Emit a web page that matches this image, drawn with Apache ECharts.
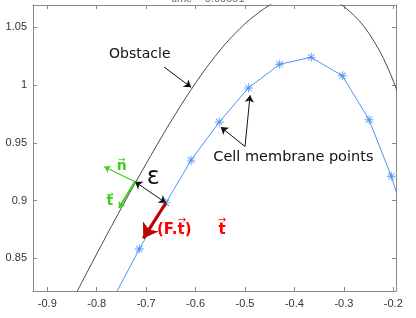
<!DOCTYPE html>
<html><head><meta charset="utf-8">
<script src="https://cdn.jsdelivr.net/npm/echarts@6/dist/echarts.min.js"></script>
<style>html,body{margin:0;padding:0;background:#fff}#c{width:416px;height:318px}</style>
</head><body><div id="c"></div>
<script>
// ---- data ----
const cellX = [-0.767, -0.7138, -0.660, -0.609, -0.552, -0.493, -0.430, -0.366, -0.303, -0.249, -0.204, -0.172];
const cellY = [0.815, 0.858, 0.898, 0.935, 0.968, 0.9975, 1.018, 1.024, 1.008, 0.970, 0.921, 0.878];
const obstacleX = [-0.86, -0.82, -0.78, -0.74, -0.70, -0.66, -0.62, -0.58, -0.54, -0.50, -0.46, -0.42, -0.38, -0.34, -0.30, -0.26, -0.22, -0.18, -0.14];
const obstacleY = [0.8045, 0.8375, 0.8699, 0.9014, 0.9319, 0.9613, 0.9889, 1.0139, 1.0355, 1.0531, 1.0665, 1.0759, 1.0807, 1.0785, 1.068, 1.0512, 1.0232, 0.9812, 0.93];
const xTicks = [-0.9, -0.8, -0.7, -0.6, -0.5, -0.4, -0.3, -0.2];
const yTicks = [0.85, 0.9, 0.95, 1, 1.05];
const xRange = [-0.9289, -0.1945];
const yRange = [0.8217, 1.0693];
const titleText = 'time = 0.00001';

// annotation anchors (data coords)
const junction = [-0.7226, 0.9163];
const nEnd = [-0.7847, 0.9293];
const tEnd = [-0.755, 0.8936];
const forceEnd = [-0.7058, 0.8673];
const obstacleArrow = [[-0.6638, 1.0157], [-0.609, 0.998]];
const cellArrowStart = [-0.5, 0.9468];
const cellArrowEnds = [[-0.549, 0.9636], [-0.4897, 0.9911]];

const cellPts = cellX.map((x, i) => [x, cellY[i]]);
const visibleCell = cellPts.slice(1, 11);
const obsPts = obstacleX.map((x, i) => [x, obstacleY[i]]);

const asterisk = 'path://M9,0L11,0L11,20L9,20Z M0,9L20,9L20,11L0,11Z M3.6,2.2L17.8,16.4L16.4,17.8L2.2,3.6Z M16.4,2.2L17.8,3.6L3.6,17.8L2.2,16.4Z';

const axisCol = '#8a8a8a';
const tickFont = {fontFamily: 'Liberation Sans', fontSize: 11, color: '#333'};
function xAx(pos, showLab) {
  return {type: 'value', position: pos, min: xRange[0], max: xRange[1],
    axisLine: {onZero: false, lineStyle: {color: axisCol, width: 1}},
    axisTick: {show: true, inside: true, length: 4, customValues: xTicks, lineStyle: {color: axisCol}},
    axisLabel: Object.assign({show: showLab, margin: 7, customValues: xTicks, formatter: v => String(v)}, tickFont),
    splitLine: {show: false}};
}
function yAx(pos, showLab) {
  return {type: 'value', position: pos, min: yRange[0], max: yRange[1],
    axisLine: {onZero: false, lineStyle: {color: axisCol, width: 1}},
    axisTick: {show: true, inside: true, length: 4, customValues: yTicks, lineStyle: {color: axisCol}},
    axisLabel: Object.assign({show: showLab, margin: 6, customValues: yTicks, formatter: v => String(v)}, tickFont),
    splitLine: {show: false}};
}
function label(coord, text, style) {
  return {coord: coord, symbol: 'circle', symbolSize: 0, itemStyle: {color: 'transparent'},
    label: Object.assign({show: true, position: 'inside', formatter: text, fontFamily: 'DejaVu Sans'}, style)};
}
function arrow(a, b, color, width, sym, size) {
  return [{coord: a, symbol: sym[0], symbolSize: size, lineStyle: {color: color, width: width, type: 'solid'}},
          {coord: b, symbol: sym[1], symbolSize: size}];
}
const green = '#3dcc1f';
const red = '#ff0000';

const chart = echarts.init(document.getElementById('c'), null, {renderer: 'canvas'});
chart.setOption({
  animation: false,
  backgroundColor: '#fff',
  title: {text: titleText, left: 'center', top: -12, textStyle: {fontFamily: 'Liberation Sans', fontSize: 11, fontWeight: 'normal', color: '#666'}},
  grid: {left: 33, right: 20, top: 5, bottom: 27, containLabel: false},
  xAxis: [xAx('bottom', true), xAx('top', false)],
  yAxis: [yAx('left', true), yAx('right', false)],
  series: [
    {type: 'line', data: obsPts, smooth: 0.3, showSymbol: false, clip: true,
     lineStyle: {color: '#4a4a4a', width: 1}, z: 2},
    {type: 'line', data: cellPts, showSymbol: false, clip: true,
     lineStyle: {color: '#4d94f5', width: 1}, z: 3},
    {type: 'scatter', data: visibleCell, symbol: asterisk, symbolSize: 9,
     itemStyle: {color: '#3a86f0'}, z: 4},
    {type: 'line', data: [], z: 6,
     markLine: {silent: true, animation: false, label: {show: false},
       data: [
         arrow(obstacleArrow[0], obstacleArrow[1], '#111', 1, ['none', 'arrow'], 7),
         arrow(cellArrowStart, cellArrowEnds[0], '#111', 1, ['none', 'arrow'], 7),
         arrow(cellArrowStart, cellArrowEnds[1], '#111', 1, ['none', 'arrow'], 7),
         arrow(junction, cellPts[2], '#111', 1, ['arrow', 'arrow'], 7),
         arrow(junction, nEnd, green, 1.2, ['none', 'arrow'], 6),
         arrow(junction, tEnd, green, 2, ['none', 'arrow'], 6),
         arrow(cellPts[2], forceEnd, '#c00000', 3, ['none', 'arrow'], 14)
       ]},
     markPoint: {silent: true, animation: false,
       data: [
         label([-0.775, 1.0269], 'Obstacle', {fontSize: 14, color: '#111', align: 'left'}),
         label([-0.5642, 0.9374], 'Cell membrane points', {fontSize: 14.5, color: '#111', align: 'left'}),
         label([-0.6856, 0.9193], 'ε', {fontSize: 24, color: '#111'}),
         label([-0.7495, 0.9295], 'n', {fontSize: 14, fontWeight: 'bold', color: green}),
         label([-0.7495, 0.9355], '→', {fontSize: 9, color: green}),
         label([-0.7732, 0.8992], 't', {fontSize: 14, fontWeight: 'bold', color: green}),
         label([-0.7732, 0.9055], '→', {fontSize: 9, color: green}),
         label([-0.6781, 0.8745], '(F.t)', {fontSize: 15, fontWeight: 'bold', color: red, align: 'left'}),
         label([-0.5466, 0.8745], 't', {fontSize: 15, fontWeight: 'bold', color: red}),
         label([-0.6275, 0.8825], '→', {fontSize: 10, color: red}),
         label([-0.5466, 0.8825], '→', {fontSize: 10, color: red})
       ]}}
  ]
});
</script></body></html>
